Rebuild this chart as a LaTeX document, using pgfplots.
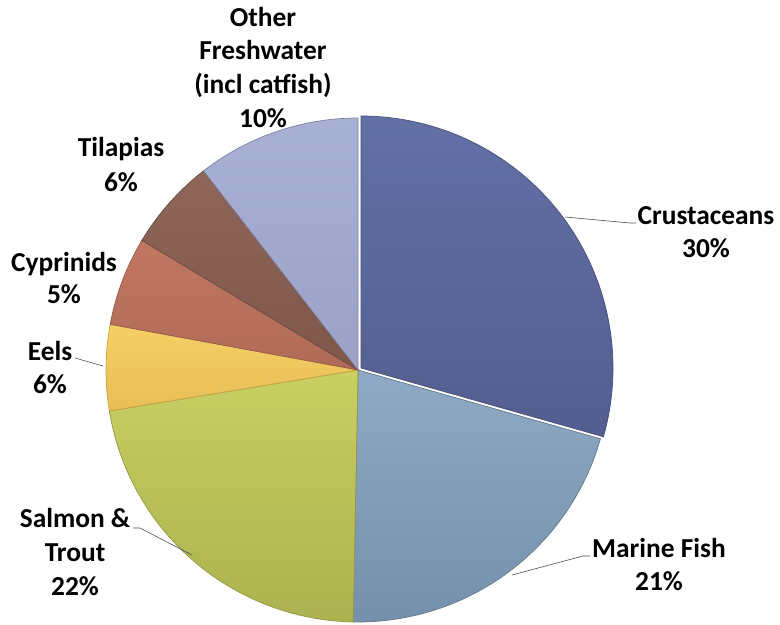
\documentclass[border=0pt]{standalone}
\usepackage{pgfplots}
\pgfplotsset{compat=1.18}
\usepackage{fontspec}
\setmainfont{Carlito}

% slice colours (top / bottom of the gradient)
\definecolor{crustT}{HTML}{6370A6}\definecolor{crustB}{HTML}{535D8F}
\definecolor{marineT}{HTML}{8FAAC6}\definecolor{marineB}{HTML}{7590AA}
\definecolor{salmonT}{HTML}{CACF62}\definecolor{salmonB}{HTML}{ABB24F}
\definecolor{eelsT}{HTML}{F5CF66}\definecolor{eelsB}{HTML}{E8BE55}
\definecolor{cypT}{HTML}{C07762}\definecolor{cypB}{HTML}{B06B57}
\definecolor{tilT}{HTML}{8F675A}\definecolor{tilB}{HTML}{7E574A}
\definecolor{othT}{HTML}{A9B0D5}\definecolor{othB}{HTML}{9BA2C6}

\tikzset{lab/.style={font=\fontsize{27.5}{33}\selectfont\bfseries, anchor=base, inner sep=0pt}}

% percentages, clockwise from 12 o'clock; cumulative sums used for the angles
% Crustaceans 29.4, Marine Fish 20.9, Salmon & Trout 22.1, Eels 5.5,
% Cyprinids 5.7, Tilapias 5.9, Other Freshwater 10.5
\newcommand{\slice}[5]{% #1 cum start, #2 cum end, #3 centre x, #4 centre y, #5 style
  \addplot[#5, domain={90-3.6*(#2)}:{90-3.6*(#1)}]
    ({#3+252*cos(t)},{#4+252*sin(t)}) -- (axis cs:#3,#4) -- cycle;
}

\begin{document}
\begin{tikzpicture}
\begin{axis}[
    width=780bp, height=624bp, scale only axis,
    xmin=0, xmax=780, ymin=0, ymax=624,
    hide axis, clip=false,
    samples=90, variable=\t,
    every axis plot/.append style={line width=0.7pt},
]
\slice{29.4}{50.3}{358}{254}{top color=marineT, bottom color=marineB, draw=marineB!85!black}
\slice{50.3}{72.4}{358}{254}{top color=salmonT, bottom color=salmonB, draw=salmonB!85!black}
\slice{72.4}{77.9}{358}{254}{top color=eelsT, bottom color=eelsB, draw=eelsB!85!black}
\slice{77.9}{83.6}{358}{254}{top color=cypT, bottom color=cypB, draw=cypB!85!black}
\slice{83.6}{89.5}{358}{254}{top color=tilT, bottom color=tilB, draw=tilB!85!black}
\slice{89.5}{100}{358}{254}{top color=othT, bottom color=othB, draw=othB!80!black}
\slice{0}{29.4}{361}{256}{top color=crustT, bottom color=crustB, draw=crustB!85!black}

% leader lines
\draw[black!70, line width=0.6pt] (axis cs:565,407) -- (axis cs:630,401) -- (axis cs:636,401);
\draw[black!70, line width=0.6pt] (axis cs:512,49) -- (axis cs:583,68) -- (axis cs:590,68);
\draw[black!70, line width=0.6pt] (axis cs:133,96) -- (axis cs:140,96) -- (axis cs:192,69);
\draw[black!70, line width=0.6pt] (axis cs:75,266) -- (axis cs:103,258);

% labels
\node[lab] at (axis cs:706,399) {Crustaceans};
\node[lab] at (axis cs:706,366) {30\%};
\node[lab] at (axis cs:659,67) {Marine Fish};
\node[lab] at (axis cs:659,34) {21\%};
\node[lab] at (axis cs:75,97) {Salmon \&};
\node[lab] at (axis cs:75,63) {Trout};
\node[lab] at (axis cs:75,29) {22\%};
\node[lab] at (axis cs:50,264) {Eels};
\node[lab] at (axis cs:50,231) {6\%};
\node[lab] at (axis cs:64,352) {Cyprinids};
\node[lab] at (axis cs:64,320) {5\%};
\node[lab] at (axis cs:121,467) {Tilapias};
\node[lab] at (axis cs:121,432) {6\%};
\node[lab] at (axis cs:263,597) {Other};
\node[lab] at (axis cs:263,564) {Freshwater};
\node[lab] at (axis cs:263,530) {(incl catfish)};
\node[lab] at (axis cs:263,496) {10\%};
\end{axis}
\pgfresetboundingbox
\path (current axis.south west) rectangle (current axis.north east);
\end{tikzpicture}
\end{document}
